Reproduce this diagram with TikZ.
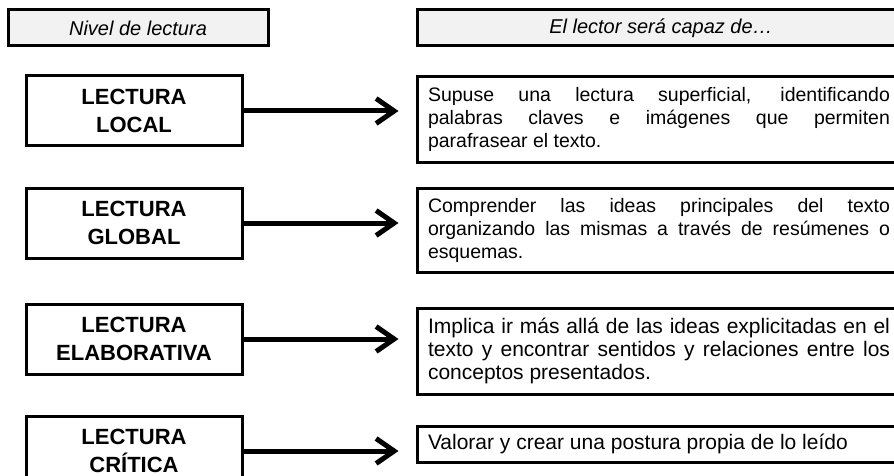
\documentclass[tikz,border=0pt]{standalone}
\usepackage{fontspec}
\setmainfont{Liberation Sans}
\usepackage{tikz}
\usetikzlibrary{arrows.meta}
\definecolor{headgray}{HTML}{F2F2F2}
\tikzstyle{headbox} = [rectangle, minimum height=36pt, text centered, draw=black,
    line width=3pt, fill=headgray, font=\fontsize{20}{24}\selectfont\itshape]
\tikzstyle{levelbox} = [rectangle, minimum width=216pt, minimum height=70pt,
    align=center, draw=black, line width=3pt, font=\fontsize{22}{28}\selectfont\bfseries]
\tikzstyle{descbox} = [rectangle, text width=462pt, inner xsep=11pt, align=justify,
    draw=black, line width=3pt, font=\fontsize{19.5}{23}\selectfont]
\tikzstyle{arrow} = [line width=5pt, -{Straight Barb[length=18pt,width=25pt]}, shorten >=17pt]

\begin{document}
\begin{tikzpicture}[x=1pt, y=1pt, node distance=112pt]
            \useasboundingbox (0,0) rectangle (894,-476);
            \clip (0,0) rectangle (894,-476);
            \node (lvl) [headbox, minimum width=260pt] at (138,-28) {Nivel de lectura};
            \node (capaz) [headbox, minimum width=488pt, right of=lvl, xshift=411pt] {El lector será capaz de…};
            \node (local) [levelbox, below of=lvl, xshift=-4pt, yshift=29pt] {LECTURA\\LOCAL};
            \node (global) [levelbox, below of=local] {LECTURA\\GLOBAL};
            \node (elab) [levelbox, below of=global, yshift=-4pt] {LECTURA\\ELABORATIVA};
            \node (crit) [levelbox, below of=elab] {LECTURA\\CRÍTICA};
            \node (d1) [descbox, minimum height=85pt, right of=local, xshift=413pt, yshift=-8.5pt]
                {Supuse una lectura superficial, identificando\linebreak palabras claves e imágenes que permiten\linebreak parafrasear el texto.};
            \node (d2) [descbox, minimum height=84pt, right of=global, xshift=413pt, yshift=-7pt]
                {Comprender las ideas principales del texto\linebreak organizando las mismas a través de resúmenes o\linebreak esquemas.};
            \node (d3) [descbox, minimum height=86pt, right of=elab, xshift=413pt, yshift=-12pt, font=\fontsize{21}{23.3}\selectfont]
                {Implica ir más allá de las ideas explicitadas en el\linebreak texto y encontrar sentidos y relaciones entre los\linebreak conceptos presentados.};
            \node (d4) [descbox, minimum height=36pt, right of=crit, xshift=413pt, yshift=7pt, font=\fontsize{21}{23.3}\selectfont]
                {Valorar y crear una postura propia de lo leído};

            \draw [arrow] (local) -- (local -| d1.west);
            \draw [arrow] (global) -- (global -| d2.west);
            \draw [arrow] (elab) -- (elab -| d3.west);
            \draw [arrow] (crit) -- (crit -| d4.west);
        \end{tikzpicture}
\end{document}
